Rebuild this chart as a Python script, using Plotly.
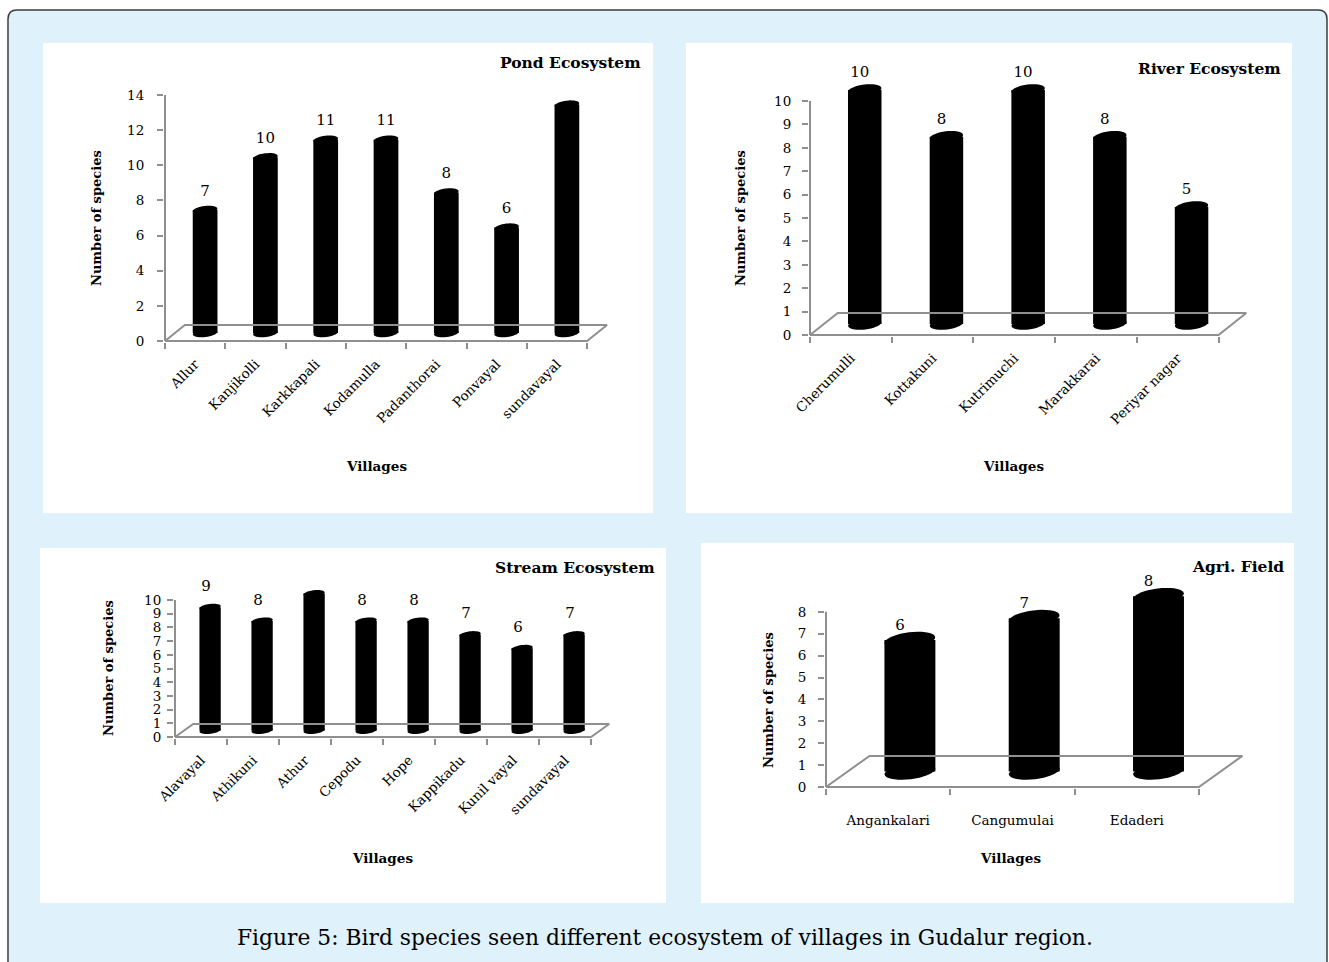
import math
import plotly.graph_objects as go

W, H = 1329, 962

# ---- data -------------------------------------------------------------
pond_villages = ["Allur", "Kanjikolli", "Karkkapali", "Kodamulla",
                 "Padanthorai", "Ponvayal", "sundavayal"]
pond_species = [7, 10, 11, 11, 8, 6, 13]

river_villages = ["Cherumulli", "Kottakuni", "Kutrimuchi", "Marakkarai",
                  "Periyar nagar"]
river_species = [10, 8, 10, 8, 5]

stream_villages = ["Alavayal", "Athikuni", "Athur", "Cepodu", "Hope",
                   "Kappikadu", "Kunil vayal", "sundavayal"]
stream_species = [9, 8, 10, 8, 8, 7, 6, 7]

agri_villages = ["Angankalari", "Cangumulai", "Edaderi"]
agri_species = [6, 7, 8]

caption = "Figure 5: Bird species seen different ecosystem of villages in Gudalur region."

# ---- styling ----------------------------------------------------------
FONT = "DejaVu Serif"
GREY = "#8f8f8f"
BLUE_BG = "#dff1fb"
TXT = "#000000"


def px(x):
    return x / W


def py(y):
    return 1 - y / H


# panel geometry (pixels): front-left floor corner, category width,
# pixels per unit, floor depth (categories / value units)
panels = [
    dict(title="Pond Ecosystem", cats=pond_villages, vals=pond_species,
         box=(43, 43, 653, 513), x0=165, y0=341, cw=60.3, vu=17.57,
         ymax=14, dtick=2, dx=0.33, dy=0.91, angle=-45,
         title_pos=(643, 62), ytitle_pos=(97, 218), xtitle_pos=(376, 466),
         lab_px=18, lab_dx=0, ystand=10, xstand=8),
    dict(title="River Ecosystem", cats=river_villages, vals=river_species,
         box=(686, 43, 1292, 513), x0=810, y0=335, cw=81.7, vu=23.4,
         ymax=10, dtick=1, dx=0.34, dy=0.94, angle=-45,
         title_pos=(1283, 69), ytitle_pos=(741, 218), xtitle_pos=(1013, 466),
         lab_px=17, lab_dx=-5, ystand=8, xstand=8),
    dict(title="Stream Ecosystem", cats=stream_villages, vals=stream_species,
         box=(40, 548, 666, 903), x0=175, y0=737, cw=52.0, vu=13.7,
         ymax=10, dtick=1, dx=0.35, dy=0.95, angle=-45,
         title_pos=(657, 567), ytitle_pos=(108, 668), xtitle_pos=(382, 858),
         lab_px=20, lab_dx=-4, ystand=3, xstand=8),
    dict(title="Agri. Field", cats=agri_villages, vals=agri_species,
         box=(701, 543, 1294, 903), x0=826, y0=787, cw=124.3, vu=21.9,
         ymax=8, dtick=1, dx=0.35, dy=1.42, angle=0,
         title_pos=(1286, 566), ytitle_pos=(768, 700), xtitle_pos=(1010, 858),
         lab_px=14, lab_dx=-10, ystand=9, xstand=20),
]

fig = go.Figure()
shapes = []
annotations = []

# outer rounded frame
fx0, fy0, fx1, fy1, r = 8, 10, 1327, 975, 9
frame_path = (
    f"M {px(fx0)},{py(fy0 + r)} "
    f"Q {px(fx0)},{py(fy0)} {px(fx0 + r)},{py(fy0)} "
    f"L {px(fx1 - r)},{py(fy0)} "
    f"Q {px(fx1)},{py(fy0)} {px(fx1)},{py(fy0 + r)} "
    f"L {px(fx1)},{py(fy1)} L {px(fx0)},{py(fy1)} Z"
)
shapes.append(dict(type="path", path=frame_path, xref="paper", yref="paper",
                   fillcolor=BLUE_BG, line=dict(color="#3c3c3c", width=1.5),
                   layer="below"))


def cap_path(cx, cy, a_px, b_px, tilt_deg, cw, vu):
    """Closed path of a tilted ellipse, expressed in data units."""
    t = math.radians(tilt_deg)
    pts = []
    for k in range(37):
        phi = 2 * math.pi * k / 36
        ex = a_px * math.cos(phi)
        ey = b_px * math.sin(phi)
        rx = ex * math.cos(t) - ey * math.sin(t)
        ry = ex * math.sin(t) + ey * math.cos(t)
        pts.append((cx + rx / cw, cy + ry / vu))
    return "M " + " L ".join(f"{x:.5f},{y:.5f}" for x, y in pts) + " Z"


for k, p in enumerate(panels, start=1):
    xa = f"x{k}" if k > 1 else "x"
    ya = f"y{k}" if k > 1 else "y"
    xkey = f"xaxis{k}" if k > 1 else "xaxis"
    ykey = f"yaxis{k}" if k > 1 else "yaxis"

    n = len(p["cats"])
    cw, vu, x0, y0 = p["cw"], p["vu"], p["x0"], p["y0"]
    dx, dy = p["dx"], p["dy"]
    bw = 0.41                 # cylinder width in categories
    eh = 0.5 * dy             # cap ellipse height in value units

    # white panel
    bx0, by0, bx1, by1 = p["box"]
    shapes.append(dict(type="rect", xref="paper", yref="paper",
                       x0=px(bx0), x1=px(bx1), y0=py(by1), y1=py(by0),
                       fillcolor="white", line=dict(width=0), layer="below"))

    # axis ranges and the matching domains
    xr = (-0.5 - 1.0 / cw, n - 0.5 + dx + 0.08)
    top_val = max(p["ymax"], max(p["vals"]) + dy / 2 + eh)
    yr = (-1.0 / vu, top_val + 0.3)
    dom_x = [px(x0 + (xr[0] + 0.5) * cw), px(x0 + (xr[1] + 0.5) * cw)]
    dom_y = [py(y0 - yr[0] * vu), py(y0 - yr[1] * vu)]

    fig.layout[xkey] = dict(
        domain=dom_x, range=list(xr), anchor=ya, showgrid=False,
        zeroline=False, showline=False, automargin=False,
        tickmode="array", tickvals=list(range(n)), ticktext=p["cats"],
        tickangle=p["angle"], ticks="outside", ticklen=p["xstand"],
        tickcolor="rgba(0,0,0,0)",
        tickfont=dict(family=FONT, size=13.5, color=TXT),
        minor=dict(tickmode="array",
                   tickvals=[i - 0.5 for i in range(n + 1)],
                   ticks="outside", ticklen=6, tickwidth=1.5,
                   tickcolor=GREY, showgrid=False),
        fixedrange=True,
    )
    yticks = list(range(0, p["ymax"] + 1, p["dtick"]))
    fig.layout[ykey] = dict(
        domain=dom_y, range=list(yr), anchor=xa, showgrid=False,
        zeroline=False, showline=False, automargin=False,
        tickmode="array", tickvals=yticks, ticktext=[str(v) for v in yticks],
        ticks="outside", ticklen=6, tickwidth=1.5, tickcolor=GREY,
        ticklabelstandoff=p["ystand"],
        tickfont=dict(family=FONT, size=13.5, color=TXT),
        fixedrange=True,
    )

    # y axis line from 0 to the top tick
    fig.add_trace(go.Scatter(x=[-0.5, -0.5], y=[0, p["ymax"]], mode="lines",
                             line=dict(color=GREY, width=2),
                             xaxis=xa, yaxis=ya, hoverinfo="skip",
                             showlegend=False))
    # floor
    fig.add_trace(go.Scatter(
        x=[-0.5, -0.5 + dx, n - 0.5 + dx, n - 0.5, -0.5],
        y=[0, dy, dy, 0, 0], mode="lines",
        line=dict(color=GREY, width=2), xaxis=xa, yaxis=ya,
        hoverinfo="skip", showlegend=False))

    # cylinders: body
    xs = list(range(n))
    fig.add_trace(go.Bar(x=xs, y=p["vals"], base=dy / 2, width=bw,
                         offset=dx / 2 - bw / 2, marker=dict(color="black",
                         line=dict(width=0)),
                         xaxis=xa, yaxis=ya, showlegend=False,
                         hovertemplate="%{y}<extra></extra>"))
    # cylinders: tilted elliptical caps
    a_px = bw * cw / 2
    b_px = eh * vu / 2
    for i, v in enumerate(p["vals"]):
        cx = i + dx / 2
        for yc in (dy / 2, v + dy / 2):
            shapes.append(dict(type="path", xref=xa, yref=ya,
                               path=cap_path(cx, yc, a_px, b_px, 7, cw, vu),
                               fillcolor="black", line=dict(width=0)))

    # value labels
    fig.add_trace(go.Scatter(
        x=[i + dx / 2 + p["lab_dx"] / cw for i in xs],
        y=[v + dy / 2 + p["lab_px"] / vu for v in p["vals"]],
        mode="text", text=[str(v) for v in p["vals"]],
        textposition="middle center",
        textfont=dict(family=FONT, size=15, color=TXT),
        cliponaxis=False, xaxis=xa, yaxis=ya, hoverinfo="skip",
        showlegend=False))

    # titles
    tx, ty = p["title_pos"]
    annotations.append(dict(text=f"<b>{p['title']}</b>", x=px(tx), y=py(ty),
                            xref="paper", yref="paper", xanchor="right",
                            yanchor="middle", showarrow=False,
                            font=dict(family=FONT, size=15.5, color=TXT)))
    yx, yy = p["ytitle_pos"]
    annotations.append(dict(text="<b>Number of species</b>", x=px(yx),
                            y=py(yy), xref="paper", yref="paper",
                            textangle=-90, xanchor="center", yanchor="middle",
                            showarrow=False,
                            font=dict(family=FONT, size=13, color=TXT)))
    vx, vy = p["xtitle_pos"]
    annotations.append(dict(text="<b>Villages</b>", x=px(vx), y=py(vy),
                            xref="paper", yref="paper", xanchor="center",
                            yanchor="middle", showarrow=False,
                            font=dict(family=FONT, size=13.5, color=TXT)))

annotations.append(dict(text=caption, x=px(665), y=py(937), xref="paper",
                        yref="paper", xanchor="center", yanchor="middle",
                        showarrow=False,
                        font=dict(family=FONT, size=21.8, color=TXT)))

fig.update_layout(
    width=W, height=H, margin=dict(l=0, r=0, t=0, b=0, autoexpand=False),
    paper_bgcolor="white", plot_bgcolor="rgba(0,0,0,0)",
    showlegend=False, barmode="overlay",
    shapes=shapes, annotations=annotations,
)

fig.write_html(
    "out.html",
    config=dict(displayModeBar=False),
    post_script="document.body.style.margin='0';"
                "document.body.style.overflow='hidden';",
)
